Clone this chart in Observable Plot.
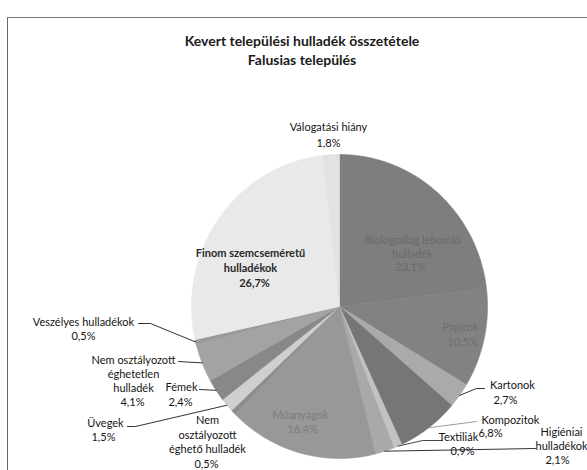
<!DOCTYPE html>
<html>
<head>
<meta charset="utf-8">
<script src="https://cdn.jsdelivr.net/npm/d3@7"></script>
<script src="https://cdn.jsdelivr.net/npm/@observablehq/plot@0.6"></script>
<style>
  html, body { margin: 0; padding: 0; background: #fff; }
  #wrap { position: relative; width: 587px; height: 470px; overflow: hidden; background: #fff; font-family: Lato, "Liberation Sans", sans-serif; }
  #frame { position: absolute; left: 7px; top: 17px; width: 700px; height: 600px; border-left: 1.5px solid #6a6a6a; border-top: 1.5px solid #7a7a7a; }
  #title { position: absolute; left: 0; top: 31px; width: 604px; text-align: center; font-weight: bold; font-size: 14px; line-height: 19px; color: #1a1a1a; }
  #chart { position: absolute; left: 0; top: 75px; }
</style>
</head>
<body>
<div id="wrap">
  <div id="frame"></div>
  <div id="title">Kevert települési hulladék összetétele<br>Falusias település</div>
  <div id="chart"></div>
</div>
<script>
// ---- data ----
const categories = [
  "Biológiailag lebomló hulladék", "Papírok", "Kartonok", "Kompozitok", "Textiliák",
  "Higiéniai hulladékok", "Műanyagok", "Nem osztályozott éghető hulladék", "Üvegek", "Fémek",
  "Nem osztályozott éghetetlen hulladék", "Veszélyes hulladékok", "Finom szemcseméretű hulladékok", "Válogatási hiány"
];
const shares = [23.1, 10.5, 2.7, 6.8, 0.9, 2.1, 16.4, 0.5, 1.5, 2.4, 4.1, 0.5, 26.7, 1.8];
const labelText = [
  "Biológiailag lebomló\nhulladék", "Papírok", "Kartonok", "Kompozitok", "Textiliák",
  "Higiéniai\nhulladékok", "Műanyagok", "Nem\nosztályozott\néghető hulladék", "Üvegek", "Fémek",
  "Nem osztályozott\néghetetlen\nhulladék", "Veszélyes hulladékok", "Finom szemcseméretű\nhulladékok", "Válogatási hiány"
];

// ---- styles / layout (not data) ----
const sliceColors = ["#7e7e7e", "#828282", "#aaaaaa", "#767676", "#c2c2c2", "#a9a9a9", "#989898",
  "#8c8c8c", "#cfcfcf", "#888888", "#a3a3a3", "#9a9a9a", "#e9e9e9", "#e2e2e2"];
const pie = {cx: 339, cy: 306, rx: 148, ry: 152};
const LH = 14.6;
const labelLayout = [
  {nx: 412, ny: 240, lh: 13.5, vx: 410, vy: 267, color: "#6a6a6a"},
  {nx: 460, ny: 327, vx: 462, vy: 342, color: "#6e6e6e"},
  {nx: 512, ny: 385, vx: 505, vy: 400},
  {nx: 510, ny: 420, vx: 490, vy: 433},
  {nx: 458, ny: 437, vx: 462, vy: 451},
  {nx: 561, ny: 432, lh: 14, vx: 557, vy: 460},
  {nx: 300, ny: 415, vx: 302, vy: 429, color: "#7c7c7c"},
  {nx: 207, ny: 420, vx: 206, vy: 464},
  {nx: 105, ny: 423, vx: 103, vy: 437},
  {nx: 181, ny: 387, vx: 180, vy: 402},
  {nx: 133, ny: 360, lh: 14, vx: 132, vy: 402},
  {nx: 83, ny: 322, vx: 83, vy: 336},
  {nx: 250, ny: 253, lh: 15, vx: 254, vy: 283, color: "#2a2a2a", weight: "bold"},
  {nx: 328, ny: 127, vx: 328, vy: 143}
];
const leaderLayout = {
  2: {pts: [[484, 388], [476, 388]], color: "#333"},
  3: {pts: [[476, 421]], color: "#9a9a9a"},
  4: {pts: [[442, 440], [422, 440]], color: "#444"},
  5: {pts: [[535, 448]], color: "#333"},
  8: {pts: [[127, 426], [135, 426]], color: "#333"},
  9: {pts: [[199, 389]], color: "#333"},
  10: {pts: [[178, 361]], color: "#333"},
  11: {pts: [[138, 323], [150, 323]], color: "#333"}
};

// ---- build marks data from values ----
const total = d3.sum(shares);
let cum = 0;
const slices = shares.map((v, i) => {
  const a0 = cum / total * 2 * Math.PI;
  cum += v;
  const a1 = cum / total * 2 * Math.PI;
  return {name: categories[i], value: v, a0, a1, mid: (a0 + a1) / 2, color: sliceColors[i]};
});
const px = (a) => pie.cx + pie.rx * Math.sin(a);
const py = (a) => pie.cy - pie.ry * Math.cos(a);

const slicePts = [];
slices.forEach((s) => {
  slicePts.push({name: s.name, color: s.color, x: pie.cx, y: pie.cy});
  const n = Math.max(2, Math.ceil((s.a1 - s.a0) / (Math.PI / 360)));
  for (let j = 0; j <= n; j++) {
    const a = s.a0 + (s.a1 - s.a0) * j / n;
    slicePts.push({name: s.name, color: s.color, x: px(a), y: py(a)});
  }
  slicePts.push({name: s.name, color: s.color, x: pie.cx, y: pie.cy});
});

const fmt = (v) => v.toFixed(1).replace(".", ",") + "%";
const texts = [];
slices.forEach((s, i) => {
  const L = labelLayout[i];
  const lh = L.lh || LH;
  const col = L.color || "#141414";
  const w = L.weight || "normal";
  labelText[i].split("\n").forEach((line, j) => {
    texts.push({t: line, x: L.nx, y: L.ny + j * lh, color: col, weight: w});
  });
  texts.push({t: fmt(s.value), x: L.vx, y: L.vy, color: col, weight: w});
});

const leaders = [];
Object.entries(leaderLayout).forEach(([k, L]) => {
  const s = slices[+k];
  L.pts.forEach(([x, y]) => leaders.push({id: k, x, y, color: L.color}));
  leaders.push({id: k, x: px(s.mid), y: py(s.mid), color: L.color});
});

const chart = Plot.plot({
  width: 587,
  height: 395,
  margin: 0,
  x: {domain: [0, 587], range: [0, 587], axis: null},
  y: {domain: [75, 470], range: [0, 395], axis: null},
  color: {type: "identity"},
  style: {background: "transparent", fontFamily: "Lato, 'Liberation Sans', sans-serif"},
  marks: [
    Plot.line(slicePts, {x: "x", y: "y", z: "name", fill: "color", stroke: "color", strokeWidth: 0.6, curve: "linear"}),
    Plot.line(leaders, {x: "x", y: "y", z: "id", stroke: "color", strokeWidth: 1, curve: "linear"}),
    Plot.text(texts.filter(d => d.weight === "normal"), {x: "x", y: "y", text: "t", fill: "color", fontSize: 11, textAnchor: "middle", lineAnchor: "middle"}),
    Plot.text(texts.filter(d => d.weight === "bold"), {x: "x", y: "y", text: "t", fill: "color", fontSize: 11, fontWeight: "bold", textAnchor: "middle", lineAnchor: "middle"})
  ]
});
document.getElementById("chart").appendChild(chart);
</script>
</body>
</html>
